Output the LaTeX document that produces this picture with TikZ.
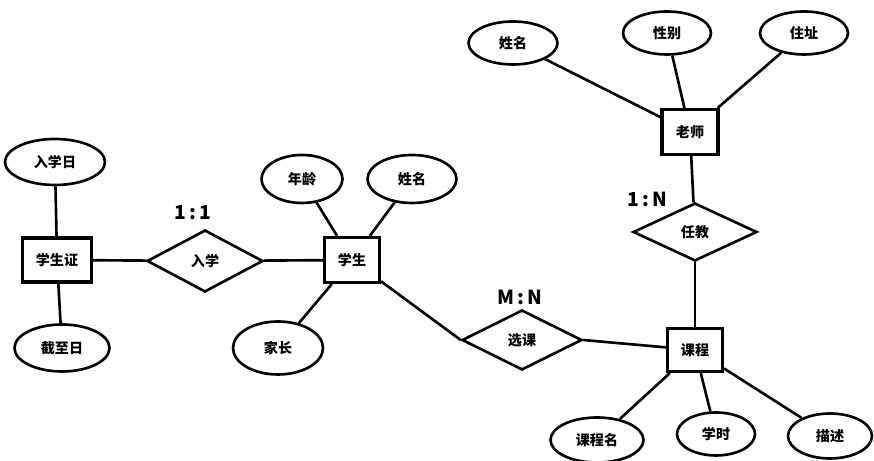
\documentclass[tikz,border=0pt]{standalone}
\usepackage{fontspec}
\setmainfont{Noto Sans CJK SC}
\usetikzlibrary{shapes.geometric}

\tikzset{
  entity/.style={draw, line width=1.8pt, minimum width=1.1cm, minimum height=0.88cm, inner sep=0pt, font=\fontsize{8}{10}\selectfont\bfseries},
  attr/.style={draw, ellipse, line width=1.5pt, minimum width=1.78cm, minimum height=0.9cm, inner sep=0pt, font=\fontsize{8}{10}\selectfont\bfseries},
  rel/.style={draw, diamond, line width=1.5pt, minimum width=2.4cm, minimum height=1.2cm, inner sep=0pt, font=\fontsize{8}{10}\selectfont\bfseries},
  ratio/.style={font=\fontsize{11}{13}\selectfont\bfseries},
  link/.style={line width=1.5pt}
}

\begin{document}
\begin{tikzpicture}
\useasboundingbox (0,0) rectangle (17.48,9.22);

% student card
\node[entity, minimum width=1.38cm] (card) at (1.14,4.02) {学生证};
\node[attr, minimum width=2.0cm, minimum height=0.92cm] (enroldate) at (1.10,5.98) {入学日};
\node[attr, minimum width=1.9cm, minimum height=0.94cm] (expiry) at (1.24,2.26) {截至日};
\node[rel, minimum width=2.32cm, minimum height=1.24cm] (enrol) at (4.10,4.00) {入学};
\node[ratio] (r11) at (3.86,4.96) {1\,:\,1};

% student
\node[entity, minimum height=0.9cm] (student) at (7.04,4.02) {学生};
\node[attr, minimum width=1.62cm, minimum height=0.96cm] (age) at (6.04,5.64) {年龄};
\node[attr, minimum height=0.96cm] (sname) at (8.24,5.64) {姓名};
\node[attr, minimum width=1.8cm, minimum height=1.06cm] (parent) at (5.56,2.26) {家长};
\node[rel] (select) at (10.44,2.42) {选课};
\node[ratio] (rmn) at (10.40,3.28) {M\,:\,N};

% course
\node[entity, minimum height=0.86cm] (course) at (13.90,2.22) {课程};
\node[attr, minimum width=1.86cm] (cname) at (11.94,0.42) {课程名};
\node[attr, minimum width=1.56cm, minimum height=0.86cm] (hours) at (14.32,0.54) {学时};
\node[attr, minimum width=1.68cm] (desc) at (16.60,0.50) {描述};

% teacher
\node[rel, minimum width=2.48cm, minimum height=1.16cm] (teach) at (13.90,4.58) {任教};
\node[ratio] (r1n) at (12.94,5.24) {1\,:\,N};
\node[entity, minimum width=1.12cm, minimum height=0.9cm] (teacher) at (13.80,6.58) {老师};
\node[attr, minimum height=0.86cm] (tname) at (10.26,8.36) {姓名};
\node[attr, minimum width=1.76cm, minimum height=0.86cm] (gender) at (13.34,8.56) {性别};
\node[attr, minimum width=1.76cm, minimum height=0.86cm] (addr) at (16.08,8.56) {住址};

% connectors
\draw[link] (card) -- (enroldate);
\draw[link] (card) -- (expiry);
\draw[link] (card) -- (enrol);
\draw[link] (enrol) -- (student);
\draw[link] (student) -- (age);
\draw[link] (student) -- (sname);
\draw[link] (student) -- (parent);
\draw[link] (student) -- (select.west);
\draw[link] (select.east) -- (course);
\draw[link] (course) -- (cname);
\draw[link] (course) -- (hours);
\draw[link] (course) -- (desc);
\draw[link] (course) -- (teach);
\draw[link] (teach) -- (teacher);
\draw[link] (teacher) -- (tname);
\draw[link] (teacher) -- (gender);
\draw[link] (teacher) -- (addr);
\end{tikzpicture}
\end{document}
